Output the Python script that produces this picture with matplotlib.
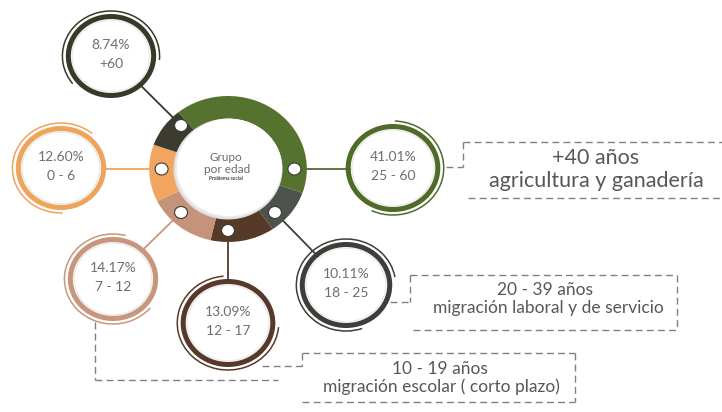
import math
import matplotlib.pyplot as plt
from matplotlib.patches import Circle, Arc

W, H = 722, 412
SX = 1.08  # reference is stretched a little sideways

# data
shares = [41.01, 10.11, 13.09, 14.17, 12.60, 8.74]
pct_labels = ["41.01%", "10.11%", "13.09%", "14.17%", "12.60%", "8.74%"]
age_labels = ["25 - 60", "18 - 25", "12 - 17", "7 - 12", "0 - 6", "+60"]
ring_colors = ["#56722f", "#4d534a", "#553a28", "#c4937a", "#f1a55f", "#3c3b2f"]
bubble_colors = ["#4f6b2a", "#3d3d39", "#56392a", "#c8967c", "#efa45c", "#393829"]
box_titles = ["+40 años", "20 - 39 años", "10 - 19 años"]
box_notes = ["agricultura y ganadería", "migración laboral y de servicio",
             "migración escolar ( corto plazo)"]

# layout in pixel coords: bubble centre, outer radius, dot angle, thin arc span
bubble_xy = [(393, 168), (346, 285), (228, 323), (113, 279), (61, 168), (111, 56)]
bubble_r = [44, 43, 44, 42, 42, 42]
dot_angles = [0, -45, -90, -135, 180, 135]
arc_spans = [(-115, 88), (10, 289), (95, 355), (75, 320), (50, 272), (-5, 218)]

plt.rcParams['font.family'] = ['Lato', 'DejaVu Sans']
TXT = "#6e6e6e"
BOX_TXT = "#575757"


def P(x, y):
    return x / SX, H - y


fig = plt.figure(figsize=(W / 100, H / 100), dpi=100)
ax = fig.add_axes([0, 0, 1, 1])

cx, cy = P(228, 169)
R = 73
ax.pie(shares, colors=ring_colors, startangle=129, counterclock=False,
       radius=R, center=(cx, cy),
       wedgeprops=dict(width=23, edgecolor="none", zorder=3))

# hole with a soft shadow on the lower left
ax.add_patch(Circle((cx, cy), 50.5, color="#dedede", lw=0, zorder=4))
ax.add_patch(Circle((cx + 0.6, cy + 0.8), 49.5, color="#ececec", lw=0, zorder=4))
ax.add_patch(Circle((cx + 1.3, cy + 1.6), 48.6, color="white", lw=0, zorder=5))
ax.text(*P(226, 157), "Grupo", ha="center", va="center", fontsize=8.5, color="#6b6b6b", zorder=6)
ax.text(*P(227, 169), "por edad", ha="center", va="center", fontsize=8.5, color="#6b6b6b", zorder=6)
ax.text(*P(226, 178), "Problema social", ha="center", va="center", fontsize=3.5,
        color="#444444", fontweight="bold", zorder=6)

rmid = 61.5
for i in range(len(shares)):
    bx, by = P(*bubble_xy[i])
    a = math.radians(dot_angles[i])
    dx, dy = cx + rmid * math.cos(a), cy + rmid * math.sin(a)
    # connector from the dot on the ring to the bubble
    ax.plot([dx, bx], [dy, by if dot_angles[i] not in (0, 180) else dy],
            color=bubble_colors[i], lw=1.3, zorder=1, solid_capstyle="butt")
    ax.add_patch(Circle((dx, dy), 6, facecolor="white", edgecolor="#3a3a3a", lw=0.8, zorder=6))
    r = bubble_r[i]
    ax.add_patch(Circle((bx, by), r - 5, facecolor="white", edgecolor="none", zorder=1.5))
    ax.add_patch(Circle((bx, by), r - 6, facecolor="none", edgecolor="#ececec", lw=1.2, zorder=2))
    ax.add_patch(Circle((bx, by), r - 2.5, facecolor="none", edgecolor=bubble_colors[i], lw=3.6, zorder=3))
    t1, t2 = arc_spans[i]
    ax.add_patch(Arc((bx, by), 2 * (r + 3), 2 * (r + 3), theta1=t1, theta2=t2,
                     color=bubble_colors[i], lw=1.1, zorder=3))
    ax.text(bx, by + 11, pct_labels[i], ha="center", va="center", fontsize=10, color=TXT, zorder=4)
    ax.text(bx, by - 8, age_labels[i], ha="center", va="center", fontsize=10, color=TXT, zorder=4)


def dash(xs, ys):
    ax.plot([x / SX for x in xs], [H - y for y in ys], color="#808080", lw=1.0,
            ls=(0, (5, 3)), zorder=1)


# box for 25 - 60
dash([463, 722], [142, 142]); dash([463, 463], [142, 167]); dash([446, 463], [167, 167])
dash([468, 722], [198, 198])
# box for 18 - 25
dash([410, 677], [275, 275]); dash([677, 677], [275, 330]); dash([413, 677], [330, 330])
dash([410, 410], [275, 302]); dash([390, 410], [302, 302])
# box for 12 - 17 and 7 - 12
dash([302, 575], [353, 353]); dash([575, 575], [353, 402]); dash([302, 575], [402, 402])
dash([302, 302], [353, 366]); dash([262, 302], [366, 366])
dash([95, 95], [322, 380]); dash([95, 278], [380, 380])

ax.text(*P(596, 158), box_titles[0], ha="center", va="center", fontsize=15.5, color=BOX_TXT)
ax.text(*P(596, 181), box_notes[0], ha="center", va="center", fontsize=15.5, color=BOX_TXT)
ax.text(*P(545, 290), box_titles[1], ha="center", va="center", fontsize=12.5, color=BOX_TXT)
ax.text(*P(548, 308), box_notes[1], ha="center", va="center", fontsize=12.5, color=BOX_TXT)
ax.text(*P(440, 369), box_titles[2], ha="center", va="center", fontsize=12.5, color=BOX_TXT)
ax.text(*P(441, 387), box_notes[2], ha="center", va="center", fontsize=12.5, color=BOX_TXT)

ax.set_aspect("auto")
ax.set_xlim(0, W / SX)
ax.set_ylim(0, H)
ax.axis("off")
fig.savefig("out.png", dpi=100, facecolor="white")
